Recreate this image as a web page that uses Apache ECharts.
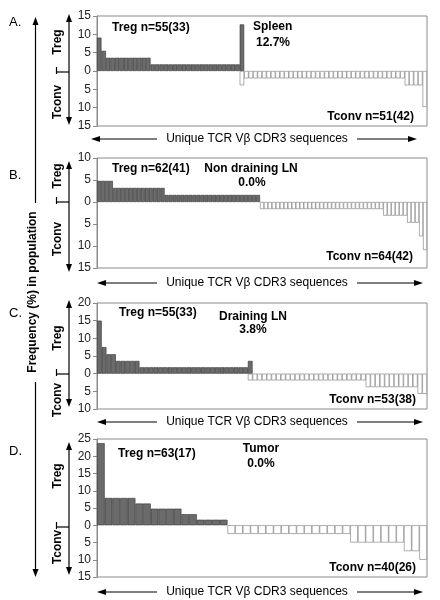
<!DOCTYPE html>
<html><head><meta charset="utf-8">
<script src="https://cdn.jsdelivr.net/npm/echarts@6/dist/echarts.min.js"></script>
<style>html,body{margin:0;padding:0;background:#fff}#c{width:440px;height:600px}</style>
</head><body><div id="c"></div>
<script>
// ---- data (Frequency %, Tconv values shown downward) ----
const tregA = [9.1,5.5,3.6,3.6,3.6,3.6,3.6,3.6,3.6,3.6,3.6,3.6,
  1.8,1.8,1.8,1.8,1.8,1.8,1.8,1.8,1.8,1.8,1.8,1.8,1.8,1.8,1.8,1.8,1.8,1.8,1.8,1.8,12.7];
const tconvA = [3.9,
  2.0,2.0,2.0,2.0,2.0,2.0,2.0,2.0,2.0,2.0,2.0,2.0,
  2.0,2.0,2.0,2.0,2.0,2.0,2.0,2.0,2.0,2.0,2.0,2.0,
  2.0,2.0,2.0,2.0,2.0,2.0,2.0,2.0,2.0,2.0,2.0,2.0,
  3.9,3.9,3.9,3.9,9.8];
const sharedA = 1;

const tregB = [4.8,4.8,4.8,4.8,
  3.2,3.2,3.2,3.2,3.2,3.2,3.2,3.2,3.2,3.2,3.2,3.2,3.2,
  1.6,1.6,1.6,1.6,1.6,1.6,1.6,1.6,1.6,1.6,1.6,1.6,1.6,1.6,1.6,1.6,1.6,1.6,1.6,1.6,1.6,1.6,1.6,1.6];
const tconvB = [1.6,1.6,1.6,1.6,1.6,1.6,1.6,1.6,1.6,1.6,1.6,1.6,1.6,1.6,1.6,1.6,
  1.6,1.6,1.6,1.6,1.6,1.6,1.6,1.6,1.6,1.6,1.6,1.6,1.6,1.6,1.6,
  3.1,3.1,3.1,3.1,3.1,3.1,4.7,4.7,4.7,7.8,10.9];
const sharedB = 0;

const tregC = [15.0,7.5,5.5,5.5,3.6,3.6,3.6,3.6,3.6,
  1.8,1.8,1.8,1.8,1.8,1.8,1.8,1.8,1.8,1.8,1.8,1.8,1.8,1.8,1.8,1.8,1.8,1.8,1.8,1.8,1.8,1.8,1.8,3.6];
const tconvC = [1.9,
  1.9,1.9,1.9,1.9,1.9,1.9,1.9,1.9,1.9,1.9,1.9,1.9,
  1.9,1.9,1.9,1.9,1.9,1.9,1.9,1.9,1.9,1.9,1.9,1.9,
  3.8,3.8,3.8,3.8,3.8,3.8,3.8,3.8,3.8,3.8,3.8,5.7,5.7];
const sharedC = 1;

const tregD = [23.8,7.9,7.9,7.9,7.9,6.3,6.3,4.8,4.8,4.8,4.8,3.2,3.2,1.6,1.6,1.6,1.6];
const tconvD = [2.5,2.5,2.5,2.5,2.5,2.5,2.5,2.5,2.5,2.5,2.5,2.5,2.5,2.5,2.5,2.5,
  5.0,5.0,5.0,5.0,5.0,5.0,5.0,7.5,7.5,10.0];
const sharedD = 0;

const yMin = [-15,-15,-10,-15];
const yMax = [15,10,20,25];
const panelLetters = ['A.','B.','C.','D.'];
const tregLabels = ['Treg n=55(33)','Treg n=62(41)','Treg n=55(33)','Treg n=63(17)'];
const tconvLabels = ['Tconv n=51(42)','Tconv n=64(42)','Tconv n=53(38)','Tconv n=40(26)'];
const tissueLabels = ['Spleen','Non draining LN','Draining LN','Tumor'];
const sharedLabels = ['12.7%','0.0%','3.8%','0.0%'];
const xTitle = 'Unique TCR V\u03b2 CDR3 sequences';
const yTitle = 'Frequency (%) in population';

// ---- layout ----
const grids = [
  {top:16, height:110}, {top:158, height:110}, {top:303, height:106}, {top:439, height:138}
];
const panels = [[tregA,tconvA,sharedA],[tregB,tconvB,sharedB],[tregC,tconvC,sharedC],[tregD,tconvD,sharedD]];

const option = {animation:false, backgroundColor:'#fff', grid:[], xAxis:[], yAxis:[], series:[], graphic:[]};
const F = 'Arial, "Liberation Sans", sans-serif';

panels.forEach(([T,C,s],k)=>{
  const N = T.length + C.length - s;
  const off = T.length - s;
  const cats=[], td=[], cd=[];
  for(let i=0;i<N;i++){
    cats.push(String(i+1));
    td.push(i < T.length ? T[i] : '-');
    cd.push(i >= off ? -C[i-off] : '-');
  }
  option.grid.push({left:97, right:13, top:grids[k].top, height:grids[k].height,
    show:true, borderColor:'#8a8a8a', borderWidth:1, containLabel:false});
  option.xAxis.push({type:'category', gridIndex:k, data:cats, axisLine:{show:false},
    axisTick:{show:false}, axisLabel:{show:false}, splitLine:{show:false}});
  option.yAxis.push({type:'value', gridIndex:k, min:yMin[k], max:yMax[k], interval:5,
    axisLine:{show:true, lineStyle:{color:'#8a8a8a'}},
    axisTick:{show:true, length:4, lineStyle:{color:'#8a8a8a'}},
    splitLine:{show:false},
    axisLabel:{fontSize:12, color:'#222', fontFamily:F, margin:6, formatter:v=>String(Math.abs(v))}});
  option.series.push({type:'bar', xAxisIndex:k, yAxisIndex:k, data:td, barCategoryGap:'0%', barGap:'-100%',
    itemStyle:{color:'#6b6b6b', borderColor:'#333', borderWidth:0.6}});
  option.series.push({type:'bar', xAxisIndex:k, yAxisIndex:k, data:cd, barCategoryGap:'0%', barGap:'-100%',
    itemStyle:{color:'#fff', borderColor:'#777', borderWidth:0.6}});
});

const G = option.graphic;
function line(x1,y1,x2,y2,w){ G.push({type:'line', silent:true, shape:{x1,y1,x2,y2}, style:{stroke:'#000', lineWidth:w||1.2}}); }
function tri(pts){ G.push({type:'polygon', silent:true, shape:{points:pts}, style:{fill:'#000'}}); }
function text(t,x,y,opt){
  opt=opt||{};
  G.push({type:'text', silent:true, x, y, rotation:opt.rot||0,
    style:{text:t, font:(opt.bold?'bold ':'')+(opt.size||12)+'px '+F, fill:'#000',
      align:opt.align||'center', verticalAlign:'middle', textAlign:opt.align||'center', textVerticalAlign:'middle'}});
}
function vArrow(x,y1,y2){ line(x,y1+6,x,y2-6); tri([[x,y1],[x-3,y1+8],[x+3,y1+8]]); tri([[x,y2],[x-3,y2-8],[x+3,y2-8]]); }

// big left arrow with title
line(35.5,24,35.5,203,1.2); line(35.5,382,35.5,570,1.2);
tri([[35.5,17],[32.5,25],[38.5,25]]); tri([[35.5,577],[32.5,569],[38.5,569]]);
text(yTitle,33,292,{bold:true,rot:Math.PI/2,size:12});

// per panel decorations
const letterY=[22,175,313,451];
const smallTop=[14,161,300,442], smallBot=[125,272,407,575];
const zeroY=[72,202,374,527];
const tregY=[42,176,338,476], tconvY=[102,239,400,547];
const xArrowY=[139,283,422,592];
const xLeft=[91,97,97,97], xRight=[417,423,423,423];
const annTreg=[[112,28],[112,169],[119,313],[118,454]];
const tissue=[[253,27,'left'],[251,169,'center'],[253,317,'center'],[261,449,'center']];
const shared=[[256,43,'left'],[252,183,'center'],[253,330,'center'],[261,464,'center']];
const annTconv=[[414,117],[413,257],[416,400],[416,568]];
for(let k=0;k<4;k++){
  text(panelLetters[k],9,letterY[k],{size:13,align:'left'});
  vArrow(69,smallTop[k],smallBot[k]);
  line(56.5,zeroY[k],69,zeroY[k],1.2);
  line(56.5,zeroY[k]-5,56.5,zeroY[k]+2,1.2);
  text('Treg',58,tregY[k],{bold:true,rot:Math.PI/2});
  text('Tconv',58,tconvY[k],{bold:true,rot:Math.PI/2});
  // x arrows
  line(xLeft[k]+6,xArrowY[k],157,xArrowY[k],1.2);
  tri([[xLeft[k],xArrowY[k]],[xLeft[k]+9,xArrowY[k]-3],[xLeft[k]+9,xArrowY[k]+3]]);
  line(357,xArrowY[k],xRight[k]-6,xArrowY[k],1.2);
  tri([[xRight[k],xArrowY[k]],[xRight[k]-9,xArrowY[k]-3],[xRight[k]-9,xArrowY[k]+3]]);
  text(xTitle,257,xArrowY[k],{size:12});
  // annotations
  text(tregLabels[k],annTreg[k][0],annTreg[k][1],{bold:true,align:'left'});
  text(tissueLabels[k],tissue[k][0],tissue[k][1],{bold:true,align:tissue[k][2]});
  text(sharedLabels[k],shared[k][0],shared[k][1],{bold:true,align:shared[k][2]});
  text(tconvLabels[k],annTconv[k][0],annTconv[k][1],{bold:true,align:'right'});
}

const chart = echarts.init(document.getElementById('c'), null, {renderer:'canvas'});
chart.setOption(option);
</script>
</body></html>
